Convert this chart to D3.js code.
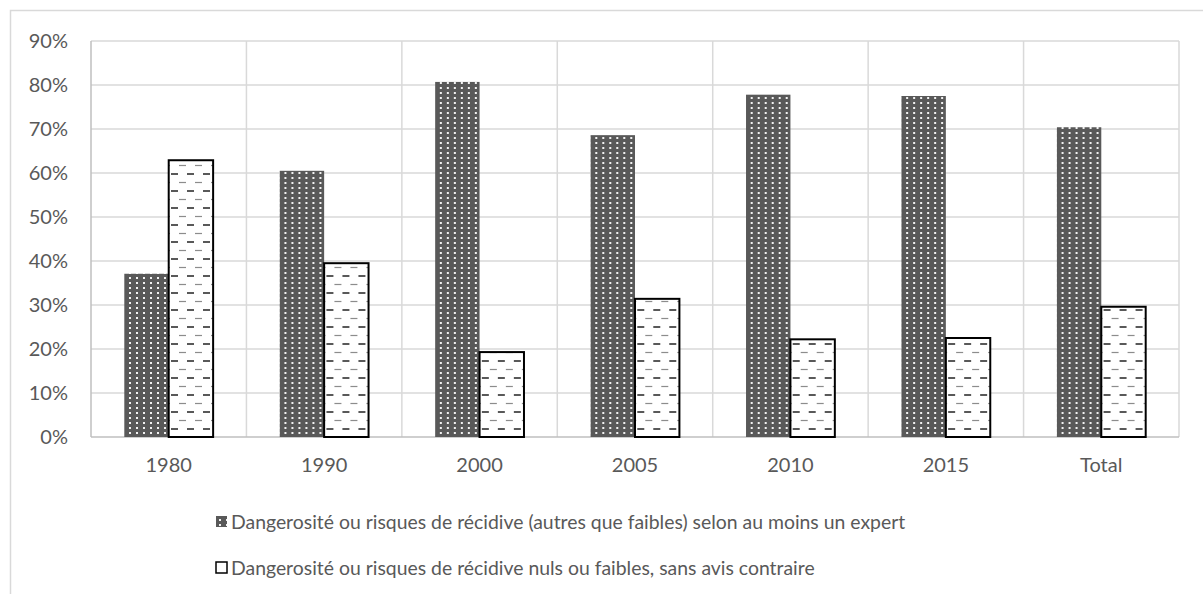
<!DOCTYPE html>
<meta charset="utf-8">
<style>
body { margin: 0; background: #fff; }
svg { display: block; }
text { font-family: Lato, "Open Sans", sans-serif; fill: #595959; }
.grid line { stroke: #d9d9d9; stroke-width: 1.5px; }
</style>
<body>
<svg width="1203" height="594"></svg>
<script src="https://cdnjs.cloudflare.com/ajax/libs/d3/7.8.5/d3.min.js"></script>
<script>

// data
var categories = ["1980", "1990", "2000", "2005", "2010", "2015", "Total"];
var seriesNames = [
  "Dangerosité ou risques de récidive (autres que faibles) selon au moins un expert",
  "Dangerosité ou risques de récidive nuls ou faibles, sans avis contraire"
];
var highRisk = [0.371, 0.605, 0.807, 0.686, 0.778, 0.775, 0.704];
var lowRisk  = [0.629, 0.395, 0.193, 0.314, 0.222, 0.225, 0.296];
var yTicks = [0, 0.1, 0.2, 0.3, 0.4, 0.5, 0.6, 0.7, 0.8, 0.9];

var svg = d3.select("svg");
var plotL = 91, plotR = 1179, plotT = 41, plotB = 437;

// outer chart frame
svg.append("rect")
  .attr("x", 10.5).attr("y", 10.5)
  .attr("width", 1210).attr("height", 600)
  .attr("fill", "none")
  .attr("stroke", "#d9d9d9")
  .attr("stroke-width", 1.5);

var defs = svg.append("defs");

// dark dotted pattern
var dots = defs.append("pattern")
  .attr("id", "dots")
  .attr("patternUnits", "userSpaceOnUse")
  .attr("width", 7).attr("height", 5);
dots.append("rect").attr("width", 7).attr("height", 5).attr("fill", "#595959");
dots.append("rect").attr("x", 3).attr("y", 2).attr("width", 2).attr("height", 2).attr("fill", "#f2f2f2");

// white pattern with staggered dashes
var dashes = defs.append("pattern")
  .attr("id", "dashes")
  .attr("patternUnits", "userSpaceOnUse")
  .attr("width", 16).attr("height", 17);
dashes.append("rect").attr("width", 16).attr("height", 17).attr("fill", "#fff");
dashes.append("line")
  .attr("x1", 0).attr("x2", 7).attr("y1", 4).attr("y2", 4)
  .attr("stroke", "#595959").attr("stroke-width", 2);
dashes.append("line")
  .attr("x1", 8).attr("x2", 15).attr("y1", 12.5).attr("y2", 12.5)
  .attr("stroke", "#8c8c8c").attr("stroke-width", 1.2);

var x0 = d3.scaleBand().domain(categories).range([plotL, plotR]).padding(0);
var x1 = d3.scaleBand().domain([0, 1]).range([0, x0.bandwidth()])
  .paddingInner(0).paddingOuter(0.75);
var y = d3.scaleLinear().domain([0, 0.9]).range([plotB, plotT]);

// horizontal gridlines
var grid = svg.append("g").attr("class", "grid");
grid.selectAll("line.h")
  .data(yTicks.slice(1))
  .enter().append("line")
  .attr("class", "h")
  .attr("x1", plotL).attr("x2", plotR)
  .attr("y1", d => y(d)).attr("y2", d => y(d));

// vertical gridlines between categories
var bounds = categories.map(c => x0(c)).concat([plotR]);
grid.selectAll("line.v")
  .data(bounds.slice(1))
  .enter().append("line")
  .attr("class", "v")
  .attr("x1", d => d).attr("x2", d => d)
  .attr("y1", plotT).attr("y2", plotB);

// y axis line and baseline
svg.append("line")
  .attr("x1", plotL).attr("x2", plotL).attr("y1", plotT).attr("y2", plotB)
  .attr("stroke", "#bfbfbf").attr("stroke-width", 1.5);
svg.append("line")
  .attr("x1", plotL).attr("x2", plotR).attr("y1", plotB).attr("y2", plotB)
  .attr("stroke", "#bfbfbf").attr("stroke-width", 1.5);

// bars
var rows = categories.map((c, i) => ({cat: c, vals: [highRisk[i], lowRisk[i]]}));
var groups = svg.selectAll("g.cat")
  .data(rows)
  .enter().append("g")
  .attr("class", "cat")
  .attr("transform", d => "translate(" + x0(d.cat) + ",0)");

groups.append("rect")
  .attr("x", x1(0))
  .attr("y", d => y(d.vals[0]))
  .attr("width", x1.bandwidth())
  .attr("height", d => y(0) - y(d.vals[0]))
  .attr("fill", "url(#dots)");

groups.append("rect")
  .attr("x", x1(1))
  .attr("y", d => y(d.vals[1]))
  .attr("width", x1.bandwidth())
  .attr("height", d => y(0) - y(d.vals[1]))
  .attr("fill", "url(#dashes)")
  .attr("stroke", "#000")
  .attr("stroke-width", 2);

// y tick labels
svg.selectAll("text.ytick")
  .data(yTicks)
  .enter().append("text")
  .attr("class", "ytick")
  .attr("x", 68)
  .attr("y", d => y(d))
  .attr("dy", "0.35em")
  .attr("text-anchor", "end")
  .style("font-size", "20px")
  .text(d3.format(".0%"));

// x labels
svg.selectAll("text.xtick")
  .data(categories)
  .enter().append("text")
  .attr("class", "xtick")
  .attr("x", d => x0(d) + x0.bandwidth() / 2)
  .attr("y", 472)
  .attr("text-anchor", "middle")
  .style("font-size", "20px")
  .text(d => d);

// legend
var legend = svg.selectAll("g.legend")
  .data(seriesNames)
  .enter().append("g")
  .attr("class", "legend")
  .attr("transform", (d, i) => "translate(216," + (522 + i * 46) + ")");

legend.append("rect")
  .attr("x", 0).attr("y", -6)
  .attr("width", 11).attr("height", 11)
  .attr("fill", (d, i) => i === 0 ? "url(#dots)" : "#fff")
  .attr("stroke", (d, i) => i === 0 ? "none" : "#000")
  .attr("stroke-width", 1.5);

legend.append("text")
  .attr("x", 15)
  .attr("dy", "0.35em")
  .style("font-size", "19.4px")
  .text(d => d);

</script>
</body>
